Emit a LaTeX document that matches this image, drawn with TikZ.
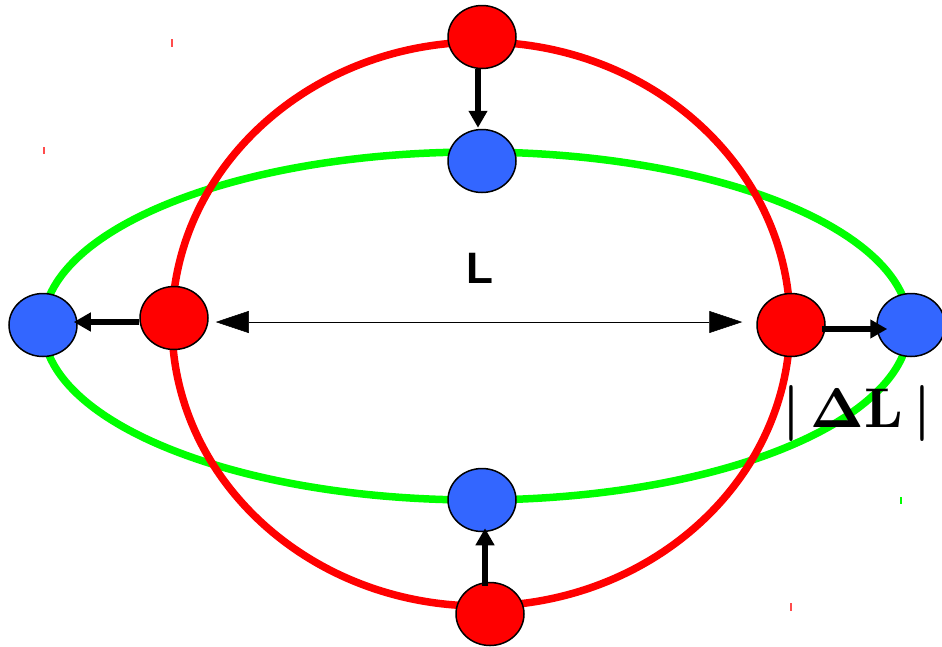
\documentclass[tikz,border=0pt]{standalone}
\usepackage{fontspec}
\newfontfamily\lsans{Liberation Sans}
\usetikzlibrary{arrows.meta,shapes.geometric}
\definecolor{rdot}{RGB}{255,0,0}
\definecolor{bdot}{RGB}{51,102,255}
\definecolor{gline}{RGB}{0,255,0}
\tikzset{
  ball/.style={ellipse, draw=black, line width=1.5pt, minimum width=68pt, minimum height=63pt, inner sep=0pt},
  redball/.style={ball, fill=rdot},
  blueball/.style={ball, fill=bdot},
  move/.style={line width=5.5pt, -{Triangle[length=17pt,width=18pt]}},
  tick/.style={line width=1.8pt},
}
\newcommand{\dlabel}{{\boldmath$\vert\,\mathbf{\Delta L}\,\vert$}}
\begin{document}
\begin{tikzpicture}[x=1pt,y=-1pt]
\useasboundingbox (0,0) rectangle (942,646);
% ellipses
\draw[gline, line width=7.5pt] (476,326) ellipse [x radius=433, y radius=174];
\draw[rdot, line width=7.5pt] (481,324) ellipse [x radius=309, y radius=282];
% small stray ticks
\draw[tick, rdot!70] (172,39) -- (172,47);
\draw[tick, rdot!70] (44,147) -- (44,154);
\draw[tick, rdot!70] (791,603) -- (791,611);
\draw[tick, gline] (901,497) -- (901,504);
% nodes
\node[redball]  (rt) at (482,37)  {};
\node[blueball] (bt) at (482,161) {};
\node[blueball] (bl) at (43,325)  {};
\node[redball]  (rl) at (174,318) {};
\node[redball]  (rr) at (791,325) {};
\node[blueball] (br) at (911,325) {};
\node[blueball] (bb) at (482,500) {};
\node[redball]  (rb) at (490,614) {};
% displacement arrows
\draw[move] ([xshift=-4pt]rt.south) -- ([xshift=-4pt,yshift=1pt]bt.north);
\draw[move] ([xshift=-5pt,yshift=-4pt]rb.north) -- ([xshift=3pt,yshift=4pt]bb.south);
\draw[move] ([yshift=-4pt]rl.west) -- ([xshift=-4pt,yshift=3pt]bl.east);
\draw[move] ([xshift=-4pt,yshift=-4pt]rr.east) -- ([xshift=11pt,yshift=-4pt]br.west);
% length L
\draw[line width=0.5pt, {Triangle[length=33pt,width=22pt]}-{Triangle[length=33pt,width=22pt]}, shorten <=7pt, shorten >=14pt] ([yshift=-4pt]rl.east) -- ([yshift=3pt]rr.west);
\node (lab) at (480,268) {\lsans\bfseries\fontsize{44}{44}\selectfont L};
\node[scale=5.6, inner sep=0pt] (dl) at (857,413) {\dlabel};
\end{tikzpicture}
\end{document}
